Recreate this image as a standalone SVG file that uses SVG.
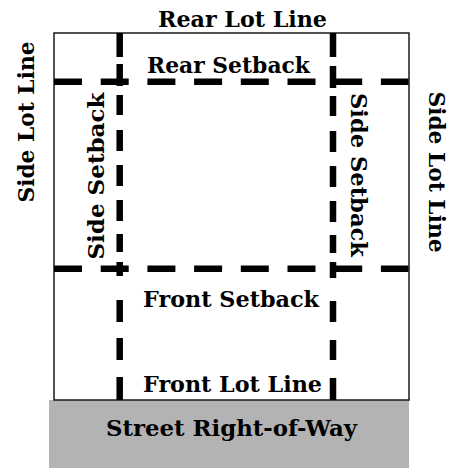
<svg xmlns="http://www.w3.org/2000/svg" width="449" height="468" viewBox="0 0 449 468">
  <style>
    .lbl { font-family: "DejaVu Serif", "Liberation Serif", serif; font-weight: bold; font-size: 22px; fill: #000; text-anchor: middle; }
    .lot { fill: #fff; stroke: #1a1a1a; stroke-width: 1.5; }
    .street { fill: #b3b3b3; stroke: none; }
    .setback { fill: none; stroke: #000; stroke-width: 6.5; stroke-linecap: butt; }
    .hdash { stroke-dasharray: 28 18.7; }
  </style>

  <rect width="449" height="468" fill="#fff"/>

  <!-- street right-of-way strip -->
  <g id="street">
    <rect class="street" x="49" y="400" width="360" height="68"/>
    <text class="lbl" x="231.5" y="436" textLength="251" lengthAdjust="spacingAndGlyphs">Street Right-of-Way</text>
  </g>

  <!-- lot boundary -->
  <g id="lot">
    <rect class="lot" x="54" y="33" width="355" height="367"/>
  </g>

  <!-- setback lines -->
  <g id="setbacks">
    <line class="setback hdash" x1="54" y1="81.7" x2="408.5" y2="81.7"/>
    <line class="setback hdash" x1="54" y1="268.7" x2="408.5" y2="268.7"/>
    <g id="left-side-setback">
      <line class="setback" x1="119.7" y1="33" x2="119.7" y2="57"/>
      <line class="setback" x1="119.7" y1="64" x2="119.7" y2="86"/>
      <line class="setback" x1="119.7" y1="95" x2="119.7" y2="115"/>
      <line class="setback" x1="119.7" y1="130" x2="119.7" y2="151"/>
      <line class="setback" x1="119.7" y1="165" x2="119.7" y2="186"/>
      <line class="setback" x1="119.7" y1="200" x2="119.7" y2="221"/>
      <line class="setback" x1="119.7" y1="234" x2="119.7" y2="252"/>
      <line class="setback" x1="119.7" y1="262" x2="119.7" y2="276"/>
      <line class="setback" x1="119.7" y1="300" x2="119.7" y2="322"/>
      <line class="setback" x1="119.7" y1="338" x2="119.7" y2="360"/>
      <line class="setback" x1="119.7" y1="377" x2="119.7" y2="400"/>
    </g>
    <g id="right-side-setback">
      <line class="setback" x1="333" y1="33" x2="333" y2="57"/>
      <line class="setback" x1="333" y1="66" x2="333" y2="88"/>
      <line class="setback" x1="333" y1="96" x2="333" y2="116"/>
      <line class="setback" x1="333" y1="131" x2="333" y2="152"/>
      <line class="setback" x1="333" y1="166" x2="333" y2="187"/>
      <line class="setback" x1="333" y1="201" x2="333" y2="222"/>
      <line class="setback" x1="333" y1="235" x2="333" y2="253"/>
      <line class="setback" x1="333" y1="262" x2="333" y2="278"/>
      <line class="setback" x1="333" y1="301" x2="333" y2="322"/>
      <line class="setback" x1="333" y1="340" x2="333" y2="360"/>
      <line class="setback" x1="333" y1="378" x2="333" y2="400"/>
    </g>
  </g>

  <!-- labels -->
  <g id="labels">
    <text class="lbl" x="242.5" y="27" textLength="169" lengthAdjust="spacingAndGlyphs">Rear Lot Line</text>
    <text class="lbl" x="228.5" y="73" textLength="163" lengthAdjust="spacingAndGlyphs">Rear Setback</text>
    <text class="lbl" x="231" y="307" textLength="176" lengthAdjust="spacingAndGlyphs">Front Setback</text>
    <text class="lbl" x="232.5" y="392" textLength="179" lengthAdjust="spacingAndGlyphs">Front Lot Line</text>
    <text class="lbl" transform="translate(34 122) rotate(-90)" textLength="161" lengthAdjust="spacingAndGlyphs">Side Lot Line</text>
    <text class="lbl" transform="translate(104 176) rotate(-90)" textLength="167" lengthAdjust="spacingAndGlyphs">Side Setback</text>
    <text class="lbl" transform="translate(351 175) rotate(90)" textLength="164" lengthAdjust="spacingAndGlyphs">Side Setback</text>
    <text class="lbl" transform="translate(429 172) rotate(90)" textLength="161" lengthAdjust="spacingAndGlyphs">Side Lot Line</text>
  </g>
</svg>
